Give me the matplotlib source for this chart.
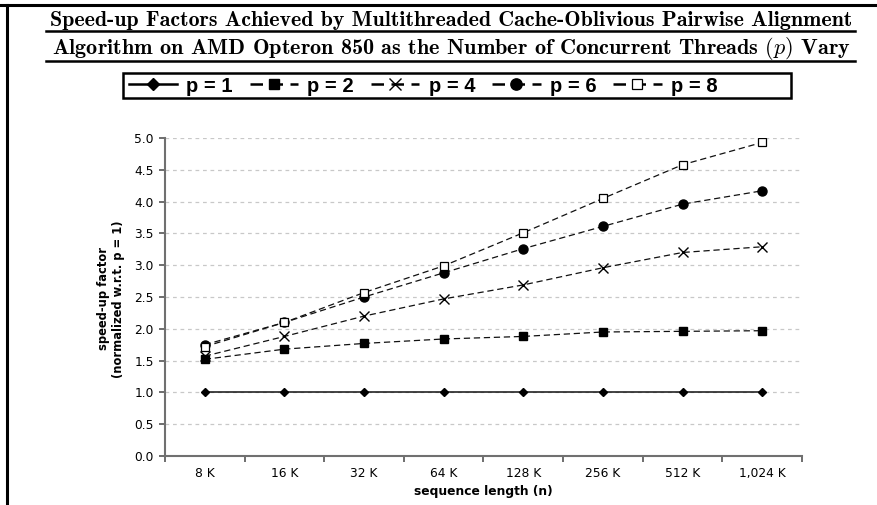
import matplotlib
matplotlib.use("Agg")
import matplotlib.pyplot as plt
from matplotlib.lines import Line2D
from matplotlib.patches import Rectangle

categories = ["8 K", "16 K", "32 K", "64 K", "128 K", "256 K", "512 K", "1,024 K"]
p1 = [1.00, 1.00, 1.00, 1.00, 1.00, 1.00, 1.00, 1.00]
p2 = [1.52, 1.68, 1.77, 1.84, 1.88, 1.95, 1.96, 1.97]
p4 = [1.57, 1.88, 2.20, 2.47, 2.69, 2.96, 3.20, 3.29]
p6 = [1.75, 2.10, 2.50, 2.88, 3.26, 3.61, 3.96, 4.17]
p8 = [1.72, 2.10, 2.57, 2.99, 3.51, 4.05, 4.58, 4.93]
yticks = [0.0, 0.5, 1.0, 1.5, 2.0, 2.5, 3.0, 3.5, 4.0, 4.5, 5.0]
title1 = "Speed-up Factors Achieved by Multithreaded Cache-Oblivious Pairwise Alignment"
title2 = r"Algorithm on AMD Opteron 850 as the Number of Concurrent Threads $(p)$ Vary"
xlabel = "sequence length (n)"
ylabel = "speed-up factor\n(normalized w.r.t. p = 1)"
labels = ["p = 1", "p = 2", "p = 4", "p = 6", "p = 8"]

plt.rcParams['mathtext.fontset'] = 'cm'
W, H = 878, 505
fig = plt.figure(figsize=(W / 100, H / 100), dpi=100)

def fx(px):
    return px / W

def fy(py):
    return 1 - py / H

# frame lines (top and left)
fig.add_artist(Line2D([0, 1], [fy(5), fy(5)], color='black', lw=2.2, transform=fig.transFigure))
fig.add_artist(Line2D([fx(7), fx(7)], [0, fy(5)], color='black', lw=2.2, transform=fig.transFigure))

# titles fitted to width
renderer = fig.canvas.get_renderer()
target_w = 800
for txt, ybase, yline in [(title1, 25.5, 30.5), (title2, 54.5, 60.5)]:
    t = fig.text(fx(451), fy(ybase), txt, ha='center', va='baseline', family='cmb10', fontsize=11)
    w = t.get_window_extent(renderer).width
    t.set_fontsize(11 * target_w / w)
    fig.add_artist(Line2D([fx(46), fx(855)], [fy(yline), fy(yline)], color='black', lw=1.8,
                          transform=fig.transFigure))

ax = fig.add_axes([fx(165), fy(456), fx(802 - 165), (456 - 138) / H])
x = list(range(len(categories)))
series = [p1, p2, p4, p6, p8]
styles = [
    dict(ls='-', marker='D', ms=4.5, mfc='black', mec='black'),
    dict(ls=(0, (5, 3)), marker='s', ms=5.8, mfc='black', mec='black'),
    dict(ls=(0, (5, 3)), marker='x', ms=6.5, mfc='black', mec='black', mew=1.0),
    dict(ls=(0, (5, 3)), marker='o', ms=6.5, mfc='black', mec='black'),
    dict(ls=(0, (5, 3)), marker='s', ms=5.8, mfc='white', mec='black', mew=0.9),
]
line_w = [1.1, 0.9, 0.9, 0.9, 0.9]
for vals, st, lw, lab in zip(series, styles, line_w, labels):
    ax.plot(x, vals, color='#111111', lw=lw, label=lab, zorder=3, **st)

ax.set_xlim(-0.5, len(categories) - 0.5)
ax.set_ylim(0, 5)
ax.set_yticks(yticks)
ax.set_yticklabels([f"{v:.1f}" for v in yticks])
ax.set_xticks([i - 0.5 for i in range(len(categories) + 1)])
ax.set_xticklabels([])
ax.set_xticks(x, minor=True)
ax.set_xticklabels(categories, minor=True)
ax.tick_params(axis='x', which='minor', length=0, pad=8, labelsize=8.8)
ax.tick_params(axis='x', which='major', length=4, width=1.2, color='#555555', direction='out')
ax.tick_params(axis='y', length=4, width=1.2, color='#555555', direction='out', labelsize=8.8, pad=4)
for lab in ax.get_xticklabels(minor=True) + ax.get_yticklabels():
    lab.set_family('DejaVu Sans')
for s in ['top', 'right']:
    ax.spines[s].set_visible(False)
for s in ['left', 'bottom']:
    ax.spines[s].set_color('#707070')
    ax.spines[s].set_linewidth(1.5)
ax.yaxis.grid(True, color='#c8c8c8', ls=(0, (3, 3)), lw=0.9)
ax.set_axisbelow(True)

fig.text(fx(483.5), fy(491), xlabel, ha='center', va='center', fontsize=8.8, fontweight='bold',
         family='DejaVu Sans')
fig.text(fx(111), fy(299), ylabel, ha='center', va='center', rotation=90, fontsize=8.3,
         fontweight='bold', family='DejaVu Sans', linespacing=1.25)

# legend box
fig.add_artist(Rectangle((fx(123), fy(98)), fx(791 - 123), (98 - 73) / H, fill=False,
                         edgecolor='black', lw=1.8, transform=fig.transFigure))
proxies = []
for st in styles:
    d = dict(st)
    d['ms'] = d['ms'] * 1.25
    proxies.append(Line2D([], [], color='black', lw=1.8, **d))
leg = fig.legend(handles=proxies, labels=labels, loc='center left',
                 bbox_to_anchor=(fx(129), fy(86)), ncol=5, frameon=False,
                 handlelength=2.4, handletextpad=0.45, columnspacing=0.85, borderaxespad=0,
                 borderpad=0, prop=dict(family=['Liberation Sans Narrow', 'Liberation Sans'],
                                         weight='bold', size=14.5))

fig.savefig("out.png", dpi=100)
